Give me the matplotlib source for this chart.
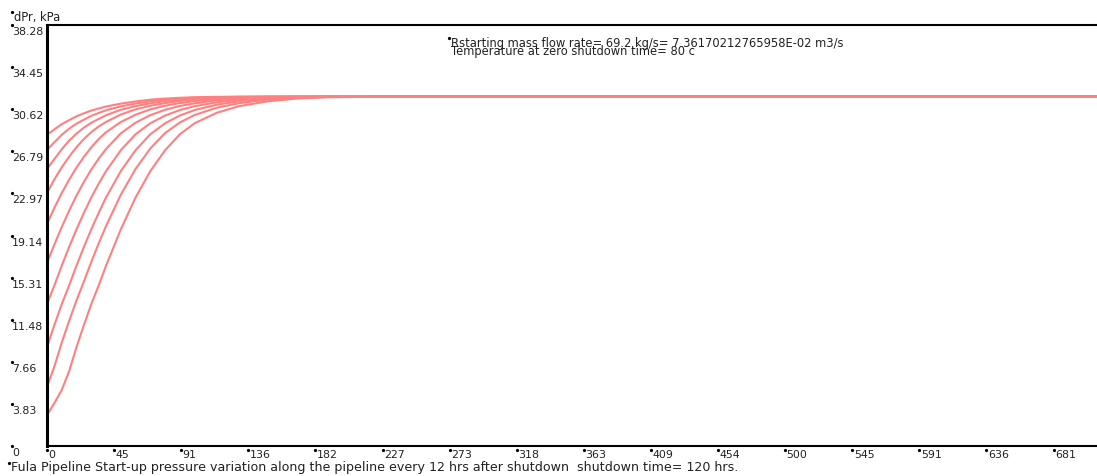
import matplotlib
matplotlib.use("Agg")
import matplotlib.pyplot as plt
from matplotlib.transforms import offset_copy

plt.rcParams['font.family'] = ['DejaVu Sans']

# distance along the pipeline (common grid for all curves)
dist = [0, 5, 10, 15, 20, 25, 30, 35, 40, 50, 60, 70, 80, 90, 100, 115, 130, 150, 170, 190, 220, 711]

# pressure drop, kPa, one curve every 12 hrs of shutdown (top = shortest shutdown)
dp_012 = [28.28, 28.79, 29.26, 29.63, 29.98, 30.25, 30.5, 30.69, 30.87, 31.13, 31.33, 31.49, 31.59, 31.66, 31.71, 31.75, 31.76, 31.76, 31.76, 31.76, 31.76, 31.76]
dp_024 = [26.91, 27.62, 28.29, 28.85, 29.31, 29.67, 30.02, 30.28, 30.53, 30.88, 31.14, 31.34, 31.49, 31.6, 31.67, 31.72, 31.75, 31.76, 31.76, 31.76, 31.76, 31.76]
dp_036 = [25.19, 26.09, 26.98, 27.77, 28.41, 28.95, 29.39, 29.74, 30.08, 30.57, 30.91, 31.16, 31.36, 31.5, 31.6, 31.69, 31.74, 31.76, 31.76, 31.76, 31.76, 31.76]
dp_048 = [23.0, 24.24, 25.34, 26.31, 27.17, 27.92, 28.54, 29.05, 29.47, 30.14, 30.61, 30.94, 31.18, 31.38, 31.52, 31.65, 31.71, 31.75, 31.76, 31.76, 31.76, 31.76]
dp_060 = [20.19, 21.65, 23.0, 24.22, 25.32, 26.29, 27.16, 27.91, 28.53, 29.46, 30.13, 30.61, 30.94, 31.18, 31.37, 31.57, 31.68, 31.74, 31.76, 31.76, 31.76, 31.76]
dp_072 = [16.64, 18.32, 19.91, 21.4, 22.78, 24.01, 25.14, 26.13, 27.01, 28.43, 29.4, 30.09, 30.57, 30.92, 31.16, 31.44, 31.6, 31.71, 31.75, 31.76, 31.76, 31.76]
dp_084 = [12.91, 14.6, 16.4, 18.1, 19.7, 21.2, 22.6, 23.85, 25.0, 26.9, 28.35, 29.35, 30.05, 30.55, 30.9, 31.25, 31.5, 31.67, 31.74, 31.76, 31.76, 31.76]
dp_096 = [9.0, 11.0, 12.9, 14.6, 16.4, 18.1, 19.7, 21.2, 22.6, 25.0, 26.9, 28.35, 29.35, 30.05, 30.55, 31.03, 31.35, 31.6, 31.71, 31.75, 31.76, 31.76]
dp_108 = [5.36, 7.24, 9.4, 11.38, 13.24, 14.96, 16.74, 18.42, 20.0, 22.85, 25.2, 27.06, 28.46, 29.42, 30.1, 30.76, 31.17, 31.51, 31.67, 31.74, 31.76, 31.76]
dp_120 = [2.82, 3.9, 5.1, 6.8, 9.0, 11.0, 12.9, 14.6, 16.4, 19.7, 22.6, 25.0, 26.9, 28.35, 29.35, 30.3, 30.9, 31.35, 31.6, 31.71, 31.76, 31.76]
curves = [dp_012, dp_024, dp_036, dp_048, dp_060, dp_072, dp_084, dp_096, dp_108, dp_120]

ytick_vals = [0, 3.828, 7.656, 11.484, 15.312, 19.14, 22.968, 26.796, 30.624, 34.452, 38.28]
ytick_text = ['0', '3.83', '7.66', '11.48', '15.31', '19.14', '22.97', '26.79', '30.62', '34.45', '38.28']
xtick_vals = [45.43 * i for i in range(16)]
xtick_text = ['0', '45', '91', '136', '182', '227', '273', '318', '363', '409', '454',
              '500', '545', '591', '636', '681']

W, H = 1097, 476
fig = plt.figure(figsize=(W / 100, H / 100), dpi=100)
ax = fig.add_axes([47 / W, 30 / H, 1050 / W, 421 / H])

for c in curves:
    ax.plot(dist, c, color='#ff8080', lw=1.5, solid_capstyle='butt')

ax.set_xlim(0, 710.9)
ax.set_ylim(0, 38.28)
ax.set_xticks([])
ax.set_yticks([])
ax.spines['right'].set_visible(False)
ax.spines['left'].set_linewidth(2.2)
ax.spines['top'].set_linewidth(1.5)
ax.spines['bottom'].set_linewidth(1.5)
for s in ax.spines.values():
    s.set_color('black')

txt = dict(color='#222222', fontsize=7.9)

# y labels: little dot at the tick height, text hanging below it
ytr = offset_copy(ax.get_yaxis_transform(), fig=fig, x=-35, y=0, units='dots')
ax.plot([0] * len(ytick_vals), ytick_vals, 'o', ms=1.3, color='black', transform=ytr, clip_on=False)
for v, t in zip(ytick_vals, ytick_text):
    ax.annotate(t, xy=(0, v), xycoords=('axes fraction', 'data'), xytext=(-35, -2),
                textcoords='offset pixels', ha='left', va='top', **txt)

# x labels
xtr = offset_copy(ax.get_xaxis_transform(), fig=fig, x=0, y=-4, units='dots')
ax.plot(xtick_vals, [0] * len(xtick_vals), 'o', ms=1.3, color='black', transform=xtr, clip_on=False)
for v, t in zip(xtick_vals, xtick_text):
    ax.annotate(t, xy=(v, 0), xycoords=('data', 'axes fraction'), xytext=(1.5, -4),
                textcoords='offset pixels', ha='left', va='top', **txt)

def fig_text(x, y, s, dot=True, size=8.3):
    fig.text(x / W, 1 - y / H, s, ha='left', va='center', color='#222222', fontsize=size)
    if dot:
        fig.lines.append(plt.Line2D([(x - 2) / W], [1 - (y - 5) / H], marker='o', ms=1.3,
                                    color='black', transform=fig.transFigure))

fig_text(14, 17, 'dPr, kPa')
fig_text(11, 468, 'Fula Pipeline Start-up pressure variation along the pipeline every 12 hrs '
         'after shutdown  shutdown time= 120 hrs.', size=9.1)
fig_text(451, 43, 'Rstarting mass flow rate= 69.2 kg/s= 7.36170212765958E-02 m3/s')
fig_text(451, 52, 'Temperature at zero shutdown time= 80 c', dot=False)

fig.savefig('out.png', dpi=100, facecolor='white')
